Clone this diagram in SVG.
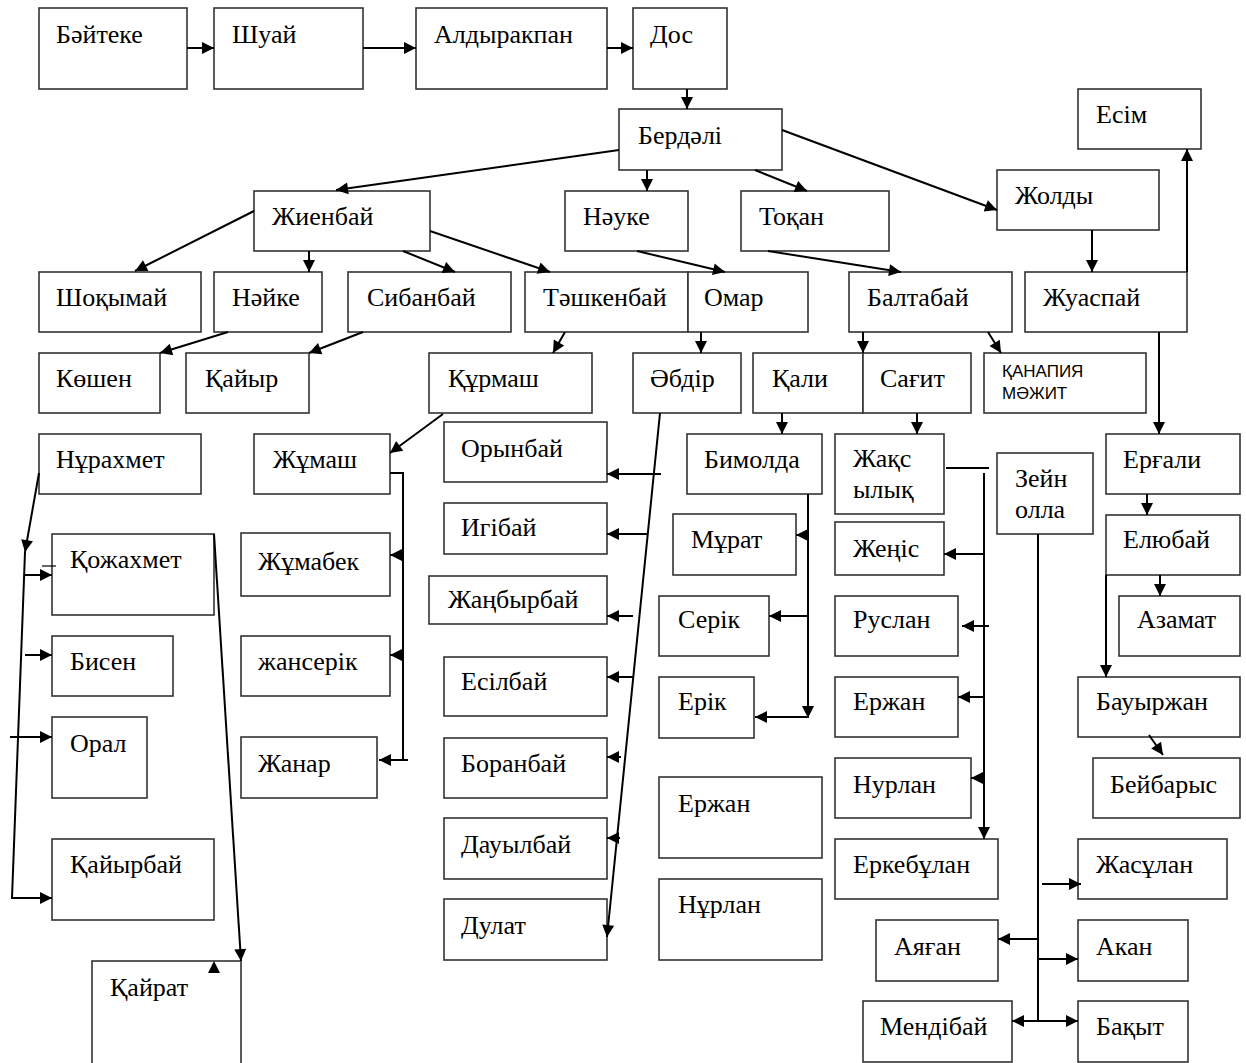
<svg xmlns="http://www.w3.org/2000/svg" width="1246" height="1063" viewBox="0 0 1246 1063">
<style>
.b{fill:#fff;stroke:#333;stroke-width:1.6}
.t{font-family:"Liberation Serif","Times New Roman",serif;font-size:26px;fill:#000}
.s{font-family:"Liberation Sans",Arial,sans-serif;font-size:17px;fill:#000}
.c path{fill:none;stroke:#000;stroke-width:2}
.a{marker-end:url(#ah)}
</style>
<defs>
<marker id="ah" viewBox="0 0 10 10" refX="10" refY="5" markerWidth="13" markerHeight="12" markerUnits="userSpaceOnUse" orient="auto"><path d="M0,0 L10,5 L0,10 z" fill="#000"/></marker>
</defs>
<rect width="1246" height="1063" fill="#fff"/>

<g id="n-baiteke"><rect class="b" x="39" y="8" width="148" height="81"/><text class="t" x="56" y="43">Бәйтеке</text></g>
<g id="n-shuai"><rect class="b" x="214" y="8" width="149" height="81"/><text class="t" x="232" y="43">Шуай</text></g>
<g id="n-aldyrakpan"><rect class="b" x="416" y="8" width="191" height="81"/><text class="t" x="434" y="43">Алдыракпан</text></g>
<g id="n-dos"><rect class="b" x="633" y="8" width="94" height="81"/><text class="t" x="650" y="43">Дос</text></g>
<g id="n-berdali"><rect class="b" x="619" y="109" width="163" height="61"/><text class="t" x="638" y="144">Бердәлі</text></g>
<g id="n-esim"><rect class="b" x="1078" y="89" width="123" height="60"/><text class="t" x="1096" y="123">Есім</text></g>
<g id="n-zhienbai"><rect class="b" x="254" y="191" width="176" height="60"/><text class="t" x="272" y="225">Жиенбай</text></g>
<g id="n-nauke"><rect class="b" x="565" y="191" width="123" height="60"/><text class="t" x="583" y="225">Нәуке</text></g>
<g id="n-tokan"><rect class="b" x="741" y="191" width="148" height="60"/><text class="t" x="759" y="225">Тоқан</text></g>
<g id="n-zholdy"><rect class="b" x="997" y="170" width="162" height="60"/><text class="t" x="1015" y="204">Жолды</text></g>

<g id="n-shokymai"><rect class="b" x="39" y="272" width="162" height="60"/><text class="t" x="56" y="306">Шоқымай</text></g>
<g id="n-naike"><rect class="b" x="214" y="272" width="108" height="60"/><text class="t" x="232" y="306">Нәйке</text></g>
<g id="n-sibanbai"><rect class="b" x="348" y="272" width="163" height="60"/><text class="t" x="367" y="306">Сибанбай</text></g>
<g id="n-tashkenbai"><rect class="b" x="525" y="272" width="163" height="60"/><text class="t" x="543" y="306">Тәшкенбай</text></g>
<g id="n-omar"><rect class="b" x="688" y="272" width="120" height="60"/><text class="t" x="704" y="306">Омар</text></g>
<g id="n-baltabai"><rect class="b" x="849" y="272" width="163" height="60"/><text class="t" x="867" y="306">Балтабай</text></g>
<g id="n-zhuaspai"><rect class="b" x="1025" y="272" width="162" height="60"/><text class="t" x="1043" y="306">Жуаспай</text></g>

<g id="n-koshen"><rect class="b" x="39" y="353" width="121" height="60"/><text class="t" x="56" y="387">Көшен</text></g>
<g id="n-kaiyr"><rect class="b" x="186" y="353" width="123" height="60"/><text class="t" x="205" y="387">Қайыр</text></g>
<g id="n-kurmash"><rect class="b" x="429" y="353" width="163" height="60"/><text class="t" x="448" y="387">Құрмаш</text></g>
<g id="n-abdir"><rect class="b" x="633" y="353" width="108" height="60"/><text class="t" x="650" y="387">Әбдір</text></g>
<g id="n-kali"><rect class="b" x="753" y="353" width="110" height="60"/><text class="t" x="772" y="387">Қали</text></g>
<g id="n-sagit"><rect class="b" x="863" y="353" width="108" height="60"/><text class="t" x="880" y="387">Сағит</text></g>
<g id="n-kanapiya"><rect class="b" x="984" y="353" width="162" height="60"/><text class="s" x="1002" y="377">ҚАНАПИЯ</text><text class="s" x="1002" y="399">МӘЖИТ</text></g>

<g id="n-nurakhmet"><rect class="b" x="39" y="434" width="162" height="60"/><text class="t" x="56" y="468">Нұрахмет</text></g>
<g id="n-zhumash"><rect class="b" x="254" y="434" width="136" height="60"/><text class="t" x="273" y="468">Жұмаш</text></g>
<g id="n-orynbai"><rect class="b" x="444" y="422" width="163" height="60"/><text class="t" x="461" y="457">Орынбай</text></g>
<g id="n-bimolda"><rect class="b" x="687" y="434" width="135" height="60"/><text class="t" x="704" y="468">Бимолда</text></g>
<g id="n-zhaksylyk"><rect class="b" x="835" y="434" width="109" height="80"/><text class="t" x="853" y="467">Жақс</text><text class="t" x="853" y="498">ылық</text></g>
<g id="n-zeinolla"><rect class="b" x="997" y="453" width="96" height="81"/><text class="t" x="1015" y="487">Зейн</text><text class="t" x="1015" y="518">олла</text></g>
<g id="n-ergali"><rect class="b" x="1106" y="434" width="134" height="60"/><text class="t" x="1123" y="468">Ерғали</text></g>

<g id="n-igibai"><rect class="b" x="444" y="503" width="163" height="51"/><text class="t" x="461" y="536">Игібай</text></g>
<g id="n-murat"><rect class="b" x="673" y="514" width="123" height="61"/><text class="t" x="691" y="548">Мұрат</text></g>
<g id="n-zhenis"><rect class="b" x="835" y="522" width="109" height="53"/><text class="t" x="853" y="557">Жеңіс</text></g>
<g id="n-elyubai"><rect class="b" x="1106" y="515" width="134" height="60"/><text class="t" x="1123" y="548">Елюбай</text></g>
<g id="n-kozhakhmet"><rect class="b" x="52" y="534" width="162" height="81"/><text class="t" x="70" y="568">Қожахмет</text></g>
<g id="n-zhumabek"><rect class="b" x="241" y="533" width="149" height="63"/><text class="t" x="258" y="570">Жұмабек</text></g>
<g id="n-zhanbyrbai"><rect class="b" x="429" y="576" width="178" height="48"/><text class="t" x="448" y="608">Жаңбырбай</text></g>
<g id="n-serik"><rect class="b" x="659" y="596" width="110" height="60"/><text class="t" x="678" y="628">Серік</text></g>
<g id="n-ruslan"><rect class="b" x="835" y="596" width="123" height="60"/><text class="t" x="853" y="628">Руслан</text></g>
<g id="n-azamat"><rect class="b" x="1119" y="596" width="121" height="60"/><text class="t" x="1137" y="628">Азамат</text></g>
<g id="n-bisen"><rect class="b" x="52" y="636" width="121" height="60"/><text class="t" x="70" y="670">Бисен</text></g>
<g id="n-zhanserik"><rect class="b" x="241" y="636" width="149" height="60"/><text class="t" x="258" y="670">жансерік</text></g>
<g id="n-esilbai"><rect class="b" x="444" y="657" width="163" height="59"/><text class="t" x="461" y="690">Есілбай</text></g>
<g id="n-erik"><rect class="b" x="659" y="677" width="95" height="61"/><text class="t" x="678" y="710">Ерік</text></g>
<g id="n-erzhan2"><rect class="b" x="835" y="677" width="123" height="60"/><text class="t" x="853" y="710">Ержан</text></g>
<g id="n-bauyrzhan"><rect class="b" x="1078" y="677" width="162" height="60"/><text class="t" x="1096" y="710">Бауыржан</text></g>
<g id="n-oral"><rect class="b" x="52" y="717" width="95" height="81"/><text class="t" x="70" y="752">Орал</text></g>
<g id="n-zhanar"><rect class="b" x="241" y="737" width="136" height="61"/><text class="t" x="258" y="772">Жанар</text></g>
<g id="n-boranbai"><rect class="b" x="444" y="738" width="163" height="60"/><text class="t" x="461" y="772">Боранбай</text></g>
<g id="n-nurlan2"><rect class="b" x="835" y="758" width="136" height="60"/><text class="t" x="853" y="793">Нурлан</text></g>
<g id="n-beibarys"><rect class="b" x="1093" y="758" width="147" height="60"/><text class="t" x="1110" y="793">Бейбарыс</text></g>
<g id="n-erzhan1"><rect class="b" x="659" y="777" width="163" height="81"/><text class="t" x="678" y="812">Ержан</text></g>
<g id="n-dauylbai"><rect class="b" x="444" y="818" width="163" height="61"/><text class="t" x="461" y="853">Дауылбай</text></g>
<g id="n-kaiyrbai"><rect class="b" x="52" y="839" width="162" height="81"/><text class="t" x="70" y="873">Қайырбай</text></g>
<g id="n-erkebulan"><rect class="b" x="835" y="839" width="163" height="60"/><text class="t" x="853" y="873">Еркебұлан</text></g>
<g id="n-zhasulan"><rect class="b" x="1078" y="839" width="149" height="60"/><text class="t" x="1096" y="873">Жасұлан</text></g>
<g id="n-nurlan1"><rect class="b" x="659" y="879" width="163" height="81"/><text class="t" x="678" y="913">Нұрлан</text></g>
<g id="n-dulat"><rect class="b" x="444" y="899" width="163" height="61"/><text class="t" x="461" y="934">Дулат</text></g>
<g id="n-ayagan"><rect class="b" x="876" y="920" width="122" height="61"/><text class="t" x="894" y="955">Аяған</text></g>
<g id="n-akan"><rect class="b" x="1078" y="920" width="110" height="61"/><text class="t" x="1096" y="955">Акан</text></g>
<g id="n-kairat"><rect class="b" x="92" y="961" width="149" height="104"/><text class="t" x="110" y="996">Қайрат</text></g>
<g id="n-mendibai"><rect class="b" x="863" y="1001" width="149" height="61"/><text class="t" x="880" y="1035">Мендібай</text></g>
<g id="n-bakyt"><rect class="b" x="1078" y="1001" width="110" height="61"/><text class="t" x="1096" y="1035">Бақыт</text></g>

<g id="connectors" class="c">
<path class="a" d="M187,48 H214"/>
<path class="a" d="M363,48 H416"/>
<path class="a" d="M607,48 H633"/>
<path class="a" d="M687,89 V109"/>
<path class="a" d="M619,150 L336,190"/>
<path class="a" d="M647,170 V191"/>
<path class="a" d="M755,170 L807,191"/>
<path class="a" d="M782,130 L997,210"/>
<path class="a" d="M1092,230 V272"/>
<path class="a" d="M1187,272 V149"/>
<path class="a" d="M768,251 L901,272"/>
<path class="a" d="M863,332 V353"/>
<path class="a" d="M988,332 L1001,353"/>
<path class="a" d="M1159,332 V434"/>
<path class="a" d="M254,211 L135,271"/>
<path class="a" d="M309,251 V272"/>
<path class="a" d="M403,251 L455,272"/>
<path class="a" d="M430,231 L550,272"/>
<path class="a" d="M637,251 L725,272"/>
<path class="a" d="M565,332 L553,353"/>
<path class="a" d="M701,332 V353"/>
<path class="a" d="M228,332 L160,353"/>
<path class="a" d="M363,332 L309,353"/>
<path class="a" d="M443,414 L390,453"/>
<path d="M390,473 H403 V760"/>
<path class="a" d="M403,555 H390"/>
<path class="a" d="M403,655 H390"/>
<path class="a" d="M408,760 H379"/>
<path class="a" d="M39,473 L25,552"/>
<path class="a" d="M25,552 L12,898 H52"/>
<path class="a" d="M25,575 H52"/>
<path class="a" d="M25,655 H52"/>
<path class="a" d="M10,737 H52"/>
<path d="M42,566 H56" style="stroke-width:1.2"/>
<path class="a" d="M214,534 L241,961"/>
<path class="a" d="M660,413 L607,937"/>
<path class="a" d="M661,474 H607"/>
<path class="a" d="M647,534 H607"/>
<path class="a" d="M633,616 H607"/>
<path class="a" d="M633,677 H607"/>
<path class="a" d="M621,757 H607"/>
<path class="a" d="M620,838 H607"/>
<path class="a" d="M782,413 V434"/>
<path class="a" d="M808,494 V718"/>
<path class="a" d="M808,717 H755"/>
<path class="a" d="M808,535 H796"/>
<path class="a" d="M808,616 H769"/>
<path class="a" d="M917,413 V434"/>
<path d="M946,468 H989"/>
<path class="a" d="M984,473 V839"/>
<path class="a" d="M984,554 H944"/>
<path class="a" d="M989,626 H962"/>
<path class="a" d="M984,697 H958"/>
<path class="a" d="M984,778 H971"/>
<path d="M1038,534 V1021"/>
<path class="a" d="M1042,884 H1081"/>
<path class="a" d="M1038,939 H998"/>
<path class="a" d="M1038,959 H1078"/>
<path class="a" d="M1038,1021 H1012"/>
<path class="a" d="M1038,1021 H1078"/>
<path class="a" d="M1147,494 V515"/>
<path class="a" d="M1160,575 V596"/>
<path class="a" d="M1106,575 V677"/>
<path class="a" d="M1149,735 L1163,755"/>
<polygon points="214,961 208,973 220,973" fill="#000"/>
</g>
</svg>
